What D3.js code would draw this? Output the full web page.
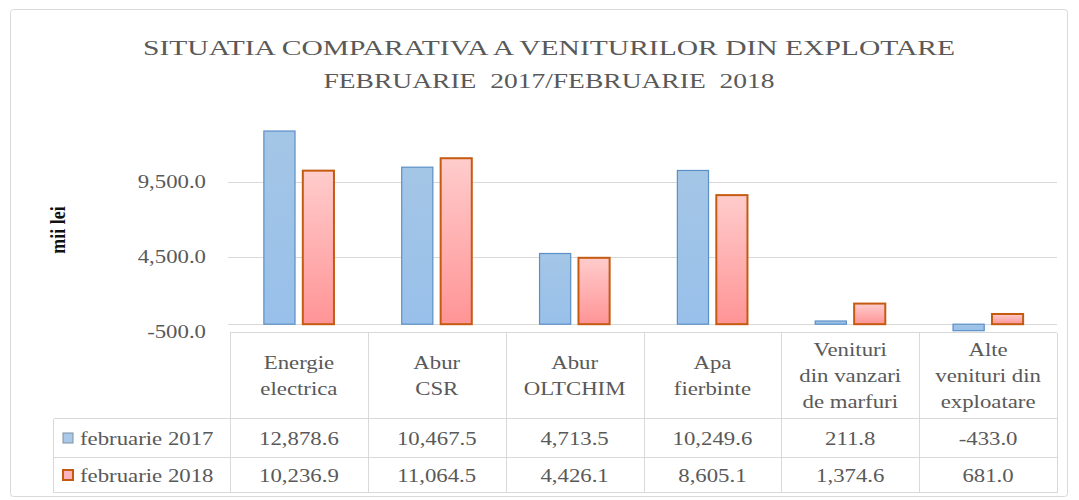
<!DOCTYPE html>
<meta charset="utf-8">
<style>
    body {
        margin: 0;
        background: #fff;
    }
    svg {
        font-family: "Liberation Serif", "DejaVu Serif", serif;
    }
    .grid line {
        stroke: #d9d9d9;
        stroke-width: 1;
        shape-rendering: crispEdges;
    }
    .tbl line {
        stroke: #d9d9d9;
        stroke-width: 1;
        shape-rendering: crispEdges;
    }
    .title {
        white-space: pre;
    }
</style>
<body>
<script src="https://cdnjs.cloudflare.com/ajax/libs/d3/7.8.5/d3.min.js"></script>
<script>
    // chart data
    const titleLines = ["SITUATIA COMPARATIVA A VENITURILOR DIN EXPLOTARE", "FEBRUARIE  2017/FEBRUARIE  2018"];
    const categories = [
        ["Energie", "electrica"],
        ["Abur", "CSR"],
        ["Abur", "OLTCHIM"],
        ["Apa", "fierbinte"],
        ["Venituri", "din vanzari", "de marfuri"],
        ["Alte", "venituri din", "exploatare"]
    ];
    const seriesNames = ["februarie 2017", "februarie 2018"];
    const values2017 = [12878.6, 10467.5, 4713.5, 10249.6, 211.8, -433.0];
    const values2018 = [10236.9, 11064.5, 4426.1, 8605.1, 1374.6, 681.0];
    const yTicks = [-500, 4500, 9500];
    const yLabel = "mii lei";

    const width = 1079, height = 500;
    const grey = "#595959";
    const sx = 1.2; // the picture is a bit wide, so text is stretched sideways

    const svg = d3.select("body").append("svg")
        .attr("width", width)
        .attr("height", height);

    const defs = svg.append("defs");
    const pinkGrad = defs.append("linearGradient")
        .attr("id", "pinkGrad")
        .attr("x1", 0).attr("y1", 0).attr("x2", 0).attr("y2", 1);
    pinkGrad.append("stop").attr("offset", "0%").attr("stop-color", "#ffcccc");
    pinkGrad.append("stop").attr("offset", "100%").attr("stop-color", "#ff9496");
    const blueGrad = defs.append("linearGradient")
        .attr("id", "blueGrad")
        .attr("x1", 0).attr("y1", 0).attr("x2", 0).attr("y2", 1);
    blueGrad.append("stop").attr("offset", "0%").attr("stop-color", "#a4c6e6");
    blueGrad.append("stop").attr("offset", "100%").attr("stop-color", "#98c0ea");

    const fills = ["url(#blueGrad)", "url(#pinkGrad)"];
    const strokes = ["#5b8fc7", "#c55a11"];

    // outer chart frame
    svg.append("rect")
        .attr("x", 10.5).attr("y", 9.5)
        .attr("width", 1057).attr("height", 487)
        .attr("rx", 3)
        .attr("fill", "#fff")
        .attr("stroke", "#d9d9d9");

    // small helper for horizontally stretched text
    function label(parent, x, y, str, anchor, opts) {
        opts = opts || {};
        return parent.append("text")
            .attr("transform", "translate(" + x + "," + y + ") scale(" + (opts.sx || sx) + ",1)")
            .attr("text-anchor", anchor)
            .attr("dy", "0.35em")
            .style("font-size", (opts.size || 19) + "px")
            .style("font-weight", opts.weight || "normal")
            .attr("fill", opts.color || grey)
            .text(str);
    }

    // title
    const titleW = [812, 451];
    svg.selectAll(".title")
        .data(titleLines)
        .enter().append("text")
        .attr("class", "title")
        .attr("x", 549)
        .attr("y", (d, i) => 48 + i * 33)
        .attr("dy", "0.35em")
        .attr("text-anchor", "middle")
        .attr("textLength", (d, i) => titleW[i])
        .attr("lengthAdjust", "spacingAndGlyphs")
        .style("font-size", "20px")
        .attr("fill", grey)
        .text(d => d);

    // scales
    const x0 = d3.scaleBand()
        .domain(d3.range(categories.length))
        .range([230, 1057]);
    const x1 = d3.scaleBand()
        .domain(d3.range(seriesNames.length))
        .range([0, x0.bandwidth()])
        .paddingInner(0.2)
        .paddingOuter(0.87);
    const y = d3.scaleLinear()
        .domain([-500, 14500])
        .range([331.7, 106.7]);

    // gridlines
    const grid = svg.append("g").attr("class", "grid");
    grid.selectAll("line.gl")
        .data(yTicks.filter(t => t > -500))
        .enter().append("line")
        .attr("class", "gl")
        .attr("x1", 228).attr("x2", 1057)
        .attr("y1", d => Math.round(y(d)) + 0.5)
        .attr("y2", d => Math.round(y(d)) + 0.5);
    grid.append("line")
        .attr("x1", 228).attr("x2", 1057)
        .attr("y1", Math.round(y(0)) + 0.5)
        .attr("y2", Math.round(y(0)) + 0.5);

    // y tick labels (plain hyphen for minus, like the original)
    const fmt = d3.formatLocale({decimal: ".", thousands: ",", grouping: [3], currency: ["", ""], minus: "-"}).format(",.1f");
    yTicks.forEach(t => label(svg, 206, y(t), fmt(t), "end"));

    // y axis title
    svg.append("text")
        .attr("transform", "translate(57,230) rotate(-90) scale(1,1.2)")
        .attr("text-anchor", "middle")
        .attr("dy", "0.35em")
        .style("font-size", "18px")
        .style("font-weight", "bold")
        .attr("fill", "#111")
        .text(yLabel);

    // bars
    const seriesValues = [values2017, values2018];
    seriesValues.forEach((vals, s) => {
        svg.append("g").selectAll("rect")
            .data(vals)
            .enter().append("rect")
            .attr("x", (d, i) => x0(i) + x1(s))
            .attr("width", x1.bandwidth())
            .attr("y", d => Math.min(y(d), y(0)))
            .attr("height", d => Math.abs(y(d) - y(0)))
            .attr("fill", fills[s])
            .attr("stroke", strokes[s])
            .attr("stroke-width", s === 1 ? 2 : 1.2);
    });

    // data table
    const tbl = svg.append("g").attr("class", "tbl");
    const tTop = 332.5, hBot = 418.5, r1 = 457.5, tBot = 492.5, tLeft = 53.5;
    tbl.append("line").attr("x1", 230).attr("x2", 1057).attr("y1", tTop).attr("y2", tTop);
    [hBot, r1, tBot].forEach(yy =>
        tbl.append("line").attr("x1", tLeft).attr("x2", 1057).attr("y1", yy).attr("y2", yy));
    tbl.append("line").attr("x1", tLeft).attr("x2", tLeft).attr("y1", hBot).attr("y2", tBot);
    d3.range(categories.length + 1).forEach(i => {
        const xx = Math.round(i < categories.length ? x0(i) : 1057) + 0.5;
        tbl.append("line").attr("x1", xx).attr("x2", xx).attr("y1", tTop).attr("y2", tBot);
    });

    // category labels
    categories.forEach((lines, i) => {
        const cx = x0(i) + x0.bandwidth() / 2;
        const lh = 26;
        const start = (tTop + hBot) / 2 - (lines.length - 1) * lh / 2;
        lines.forEach((ln, k) => label(tbl, cx, start + k * lh, ln, "middle"));
    });

    // values + legend keys
    const rowY = [(hBot + r1) / 2, (r1 + tBot) / 2];
    seriesValues.forEach((vals, s) => {
        vals.forEach((v, i) => label(tbl, x0(i) + x0.bandwidth() / 2, rowY[s], fmt(v), "middle"));
        svg.append("rect")
            .attr("x", 63).attr("y", rowY[s] - 5)
            .attr("width", 10).attr("height", 10)
            .attr("fill", s === 0 ? "#a9c9e8" : "#ffb3bd")
            .attr("stroke", s === 0 ? "#7f8fa0" : "#c55a11")
            .attr("stroke-width", s === 0 ? 1 : 2);
        label(tbl, 80, rowY[s], seriesNames[s], "start");
    });
</script>
</body>
